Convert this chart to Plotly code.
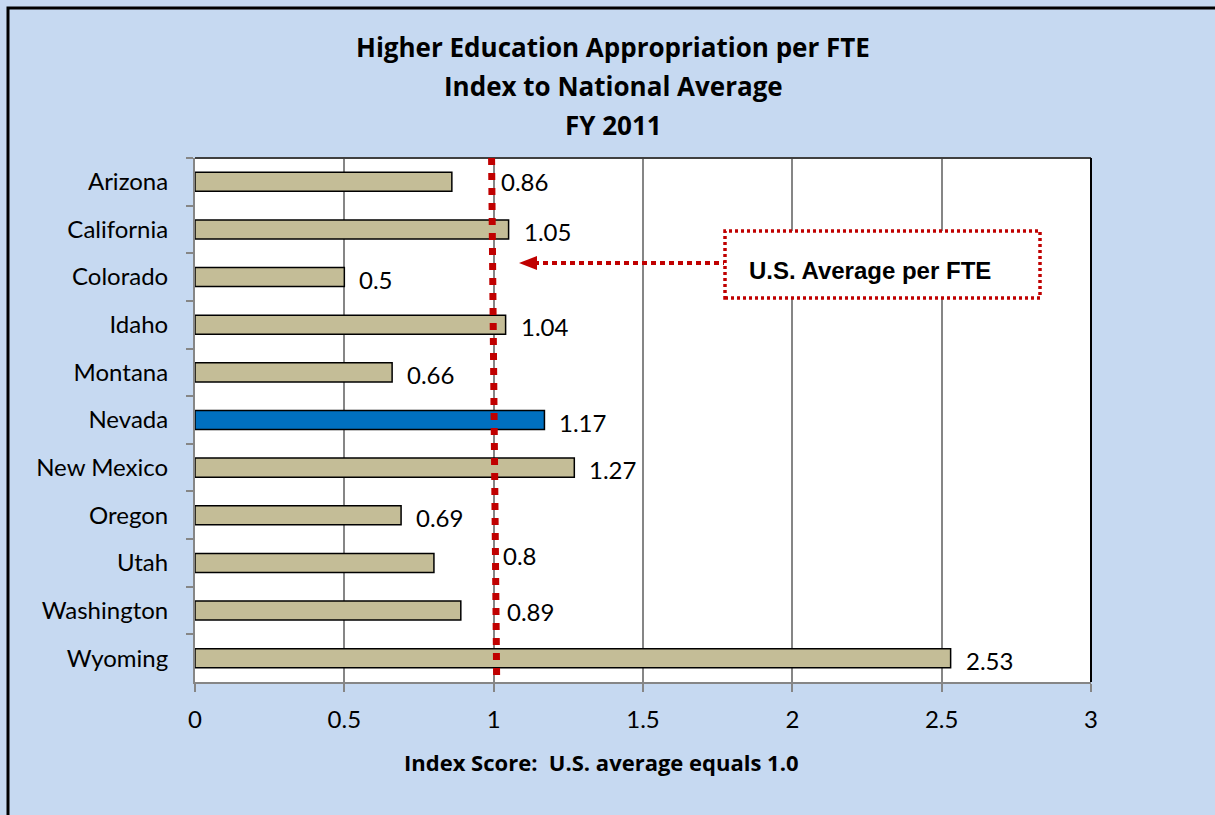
import plotly.graph_objects as go

# ---------------- data ----------------
states = ["Arizona", "California", "Colorado", "Idaho", "Montana", "Nevada",
          "New Mexico", "Oregon", "Utah", "Washington", "Wyoming"]
index_values = [0.86, 1.05, 0.5, 1.04, 0.66, 1.17, 1.27, 0.69, 0.8, 0.89, 2.53]
highlight_state = "Nevada"
x_tick_values = [0, 0.5, 1, 1.5, 2, 2.5, 3]
x_tick_labels = ["0", "0.5", "1", "1.5", "2", "2.5", "3"]
us_average = 1.0
title_lines = ["Higher Education Appropriation per FTE", "Index to National Average", "FY 2011"]
x_title = "Index Score:  U.S. average equals 1.0"
callout_text = "U.S. Average per FTE"

# ---------------- styles ----------------
BG = "#C6D9F1"
TAN = "#C4BD97"
BLUE = "#0070C0"
RED = "#C00000"
GRID = "#868686"
FONT = "Lato"
BOLD_FONT = "Open Sans"

W, H = 1215, 815
ML, MR, MT, MB = 195, 124, 158, 133
PW, PH = W - ML - MR, H - MT - MB
XMAX = 3.0


def px_x(px):   # pixel -> x data
    return (px - ML) / PW * XMAX


def px_xp(px):  # pixel -> x paper
    return (px - ML) / PW


def px_yp(py):  # pixel -> y paper
    return (H - MB - py) / PH


colors = [BLUE if s == highlight_state else TAN for s in states]

fig = go.Figure()
fig.add_trace(go.Bar(
    y=states, x=index_values, orientation="h",
    marker=dict(color=colors, line=dict(color="black", width=1.5)),
    width=0.4, hoverinfo="x+y", showlegend=False,
))

# data labels (with the manual nudges seen in the reference)
label_shift = {"Arizona": (47, 0), "Utah": (67, 7), "Washington": (44, -1)}
annotations = []
for s, v in zip(states, index_values):
    dx, dy = label_shift.get(s, (13, -2))
    annotations.append(dict(
        x=v, y=s, xref="x", yref="y", text=f"{v:g}", showarrow=False,
        xanchor="left", yanchor="middle", xshift=dx, yshift=dy,
        font=dict(family=FONT, size=24, color="black"),
    ))

# title lines
for i, t in enumerate(title_lines):
    annotations.append(dict(
        x=px_xp(613), y=px_yp(47 + 39 * i), xref="paper", yref="paper",
        text=f"<b>{t}</b>", showarrow=False, xanchor="center", yanchor="middle",
        font=dict(family=BOLD_FONT, size=26, color="black"),
    ))

# x axis title
annotations.append(dict(
    x=px_xp(601), y=px_yp(762), xref="paper", yref="paper",
    text=f"<b>{x_title}</b>", showarrow=False, xanchor="center", yanchor="middle",
    font=dict(family=BOLD_FONT, size=22, color="black"),
))

# callout text
annotations.append(dict(
    x=px_x(870), y=px_yp(270), xref="x", yref="paper",
    text=f"<b>{callout_text}</b>", showarrow=False, xanchor="center", yanchor="middle",
    font=dict(family="Liberation Sans, Arial", size=24, color="black"),
))

shapes = []
# outer chart border (left/top visible)
shapes.append(dict(type="rect", xref="paper", yref="paper",
                   x0=px_xp(8), x1=px_xp(1400), y0=px_yp(1000), y1=px_yp(8),
                   line=dict(color="black", width=3), fillcolor="rgba(0,0,0,0)", layer="below"))
# plot area top & right border
shapes.append(dict(type="line", xref="paper", yref="paper", x0=0, x1=1, y0=1, y1=1,
                   line=dict(color="#404040", width=2)))
shapes.append(dict(type="line", xref="paper", yref="paper", x0=1, x1=1, y0=0, y1=1,
                   line=dict(color="black", width=2)))
# US average dotted line
shapes.append(dict(type="line", xref="x", yref="paper",
                   x0=us_average - 0.007, x1=us_average + 0.01, y0=1.0, y1=0.008,
                   line=dict(color=RED, width=7, dash="7px,8px")))
# callout box
shapes.append(dict(type="rect", xref="x", yref="paper",
                   x0=px_x(725), x1=px_x(1040), y0=px_yp(298), y1=px_yp(231),
                   line=dict(color=RED, width=3.5, dash="3px,3px"), fillcolor="white"))
# arrow shaft
shapes.append(dict(type="line", xref="x", yref="paper",
                   x0=px_x(534), x1=px_x(724), y0=px_yp(263), y1=px_yp(263),
                   line=dict(color=RED, width=4, dash="5px,4px")))
# arrow head
tipx, basex = px_x(519), px_x(537)
yc, hh = px_yp(263), 7 / PH
shapes.append(dict(type="path", xref="x", yref="paper",
                   path=f"M {tipx} {yc} L {basex} {yc + hh} L {basex} {yc - hh} Z",
                   fillcolor=RED, line=dict(color=RED, width=0)))

fig.update_layout(
    width=W, height=H,
    margin=dict(l=ML, r=MR, t=MT, b=MB, pad=0),
    paper_bgcolor=BG, plot_bgcolor="white",
    font=dict(family=FONT, size=24, color="black"),
    annotations=annotations, shapes=shapes,
    bargap=0.6,
    xaxis=dict(
        range=[0, XMAX], tickvals=x_tick_values, ticktext=x_tick_labels,
        showgrid=True, gridcolor=GRID, gridwidth=1.5, zeroline=False,
        showline=True, linecolor=GRID, linewidth=2,
        ticks="outside", ticklen=8, tickcolor=GRID, tickwidth=2,
        tickfont=dict(family=FONT, size=24), ticklabelstandoff=7,
    ),
    yaxis=dict(
        categoryorder="array", categoryarray=states, autorange="reversed",
        showgrid=False, zeroline=False,
        showline=True, linecolor=GRID, linewidth=2,
        ticks="outside", tickson="boundaries", ticklen=7, tickcolor=GRID, tickwidth=2,
        tickfont=dict(family=FONT, size=24), ticklabelstandoff=20,
    ),
)

fig.write_html("out.html", config={"displayModeBar": False},
               post_script="document.body.style.margin='0px';")
